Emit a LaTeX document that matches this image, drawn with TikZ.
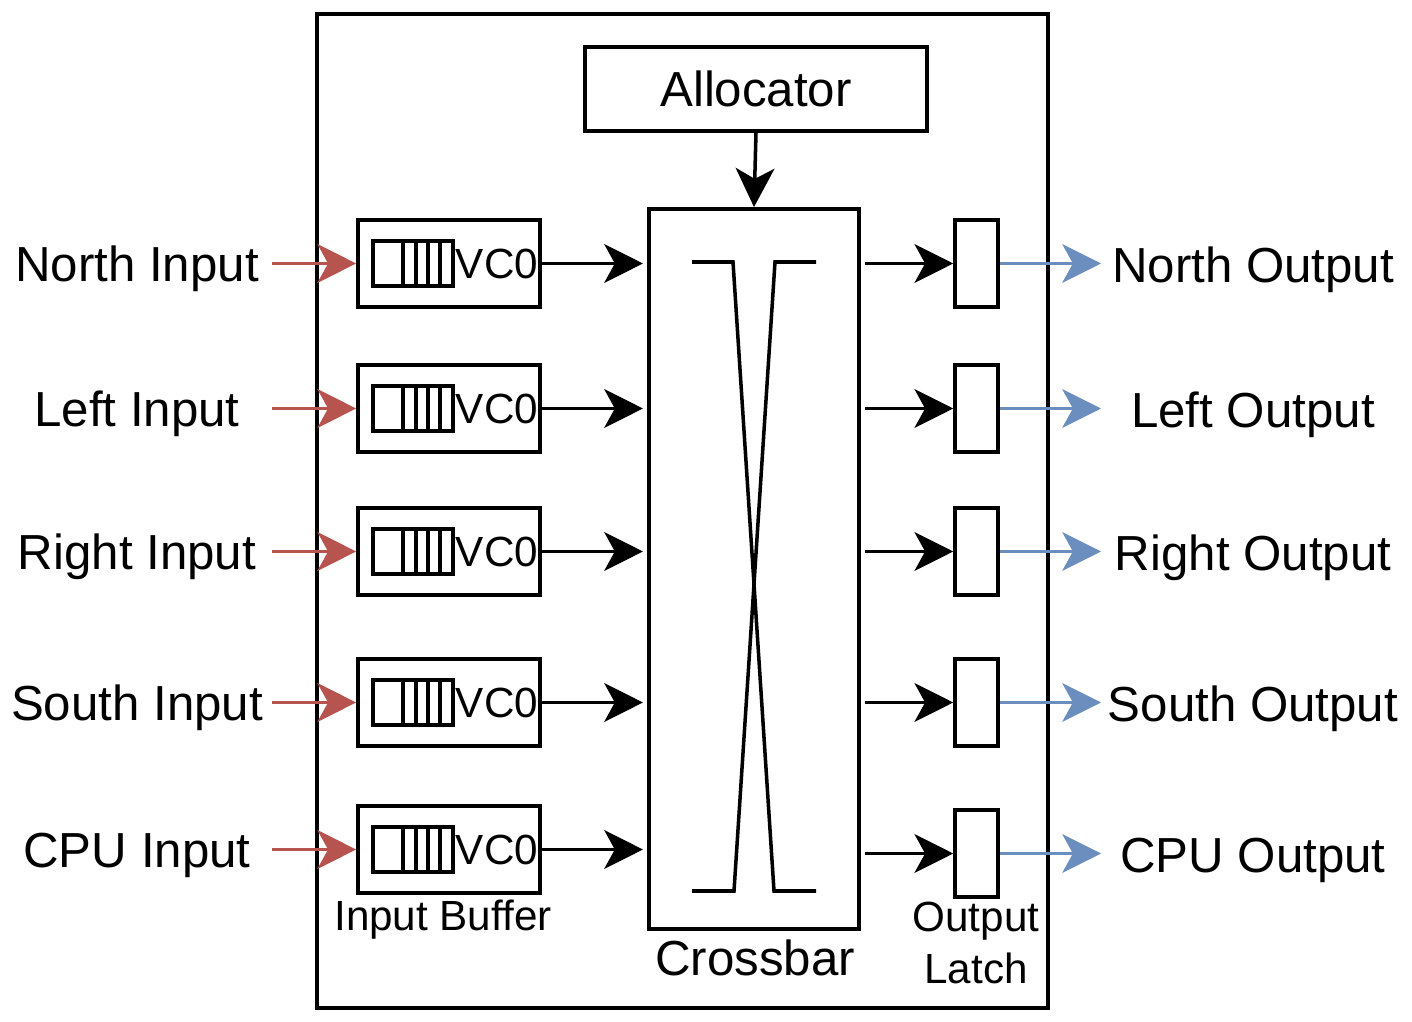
\documentclass[tikz,border=0pt]{standalone}
\usepackage{fontspec}
\setmainfont{Liberation Sans}
\usepackage{tikz}
\usetikzlibrary{arrows.meta}
\definecolor{inred}{HTML}{B85450}
\definecolor{outblue}{HTML}{6C8EBF}

\begin{document}
\begin{tikzpicture}[x=0.01cm,y=-0.01cm]
            \tikzstyle{every node}=[font=\fontsize{14}{17}\selectfont]
            \tikzstyle{box}=[draw, line width=1pt, inner sep=0pt]
            \tikzstyle{small}=[font=\fontsize{12}{14.7}\selectfont]
            \tikzstyle{arr}=[line width=1pt, -{Stealth[length=11pt,width=11pt,inset=3pt]}]
            \useasboundingbox (0,0) rectangle (1412,1022);
            \draw [line width=1pt] (317,14) rectangle (1048,1008);
            \node [box, minimum width=3.42cm, minimum height=0.84cm] (alloc) at (756,89) {Allocator};
            \node [box, minimum width=2.1cm, minimum height=7.2cm] (xbar) at (754,569) {};
            \draw [line width=1pt] (692,262) -- (733,262) -- (774,891) -- (816,891);
            \draw [line width=1pt] (816,262) -- (775,262) -- (734,891) -- (692,891);
            \draw [arr] (alloc.south) -- (xbar.north);
            \node [anchor=base] (xlabel) at (755,975) {Crossbar};
            \node [small, anchor=base] (blabel) at (443,930) {Input Buffer};
            \node [small, align=center, inner sep=0pt] (llabel) at (976,943) {Output\\Latch};
            \foreach \i/\yi/\yo/\lin/\lout in {1/263.5/263.5/North Input/North Output,
                    2/408.5/408.5/Left Input/Left Output, 3/551.5/551.5/Right Input/Right Output,
                    4/702.5/702.5/South Input/South Output, 5/849.5/853.5/CPU Input/CPU Output} {
                \node [box, minimum width=1.82cm, minimum height=0.87cm] (buf\i) at (449,\yi) {};
                \draw [line width=1pt] (373,\yi-22.5) rectangle (453,\yi+22.5);
                \foreach \x in {403,416,428,440}
                    \draw [line width=1pt] (\x,\yi-22.5) -- (\x,\yi+22.5);
                \node [small, inner sep=0pt] (vc\i) at (497,\yi) {VC0};
                \node [box, minimum width=0.43cm, minimum height=0.87cm] (lat\i) at (976.5,\yo) {};
                \coordinate (src\i) at (272,\yi);
                \coordinate (dst\i) at (1101,\yo);
                \node [anchor=base] (in\i) at (137,\yi+18) {\lin};
                \node [anchor=base] (out\i) at (1253,\yo+19) {\lout};
                \draw [arr, inred] (src\i) -- (buf\i.west);
                \draw [arr, shorten >=1.2pt] (buf\i.east) -- (xbar.west |- buf\i);
                \draw [arr, shorten <=1.2pt] (xbar.east |- lat\i) -- (lat\i.west);
                \draw [arr, outblue] (lat\i.east) -- (dst\i);
            }
        \end{tikzpicture}
\end{document}
